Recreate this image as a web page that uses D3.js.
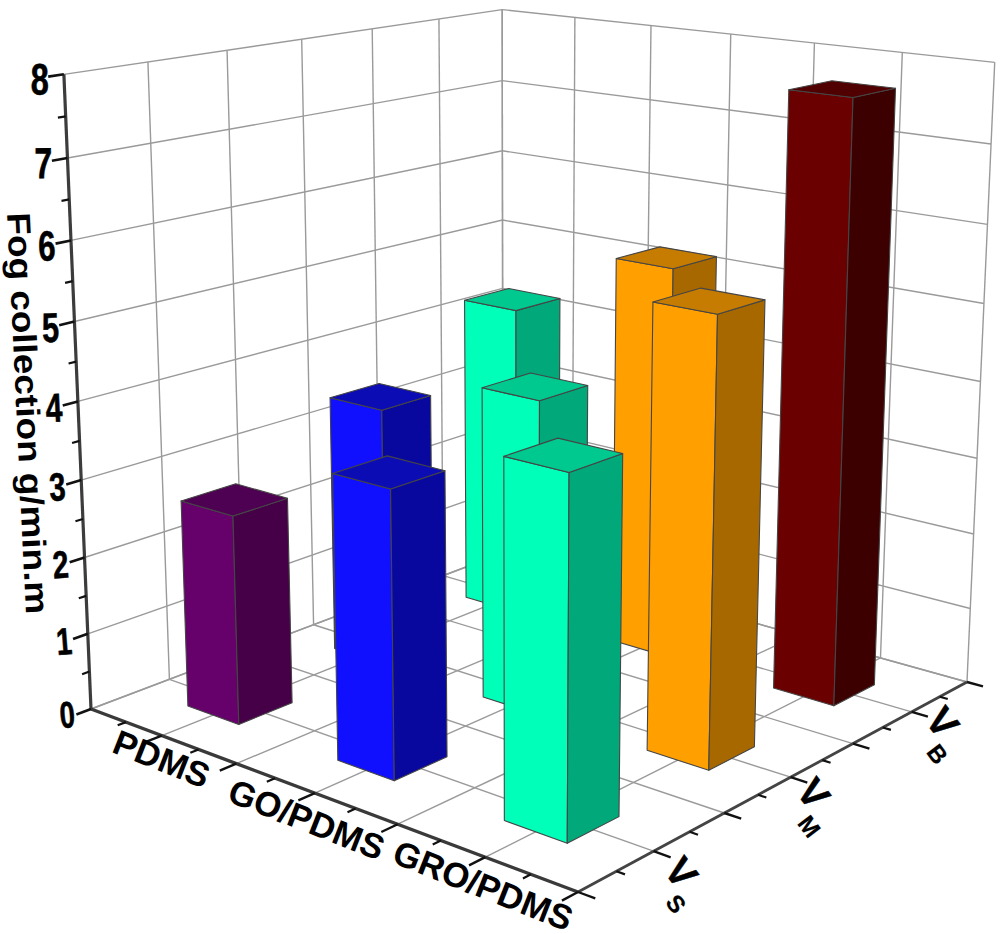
<!DOCTYPE html>
<html><head><meta charset="utf-8">
<style>html,body{margin:0;background:#fff}svg{display:block}text{font-family:"Liberation Sans",Arial,sans-serif;font-weight:bold;fill:#000}</style>
<script src="https://cdn.jsdelivr.net/npm/d3@7/dist/d3.min.js"></script></head><body>
<script>
const categories = ["PDMS","GO/PDMS","GRO/PDMS"];
const seriesNames = ["S","M","B"];
const valuesVS = [2.7,3.58,4.3];
const valuesVM = [3.46,4.06,5.55];
const valuesVB = [4.28,5.24,7.7];
const valueTicks = [0,1,2,3,4,5,6,7,8];
const yTitle = "Fog collection g/min.m";
const palette = [
 {front:"#66006a",side:"#460048",top:"#4e0052"},
 {front:"#1010ff",side:"#08089e",top:"#0c0cb4"},
 {front:"#00ffb8",side:"#00a87a",top:"#00c98f"},
 {front:"#ff9f00",side:"#a86800",top:"#c67c00"},
 {front:"#6b0000",side:"#3c0000",top:"#500000"}];

const W=1000,H=934;
const svg=d3.select("body").append("svg").attr("width",W).attr("height",H);

// anchors of the projected box
const A=[91,709],B=[578,892],C=[967,682],D=[503,553];
const Atop=[65,76],Dtop=[501,5],Ctop=[995,66];
const dx1=B[0]-C[0],dx2=D[0]-C[0],sx=A[0]-B[0]+C[0]-D[0];
const dy1=B[1]-C[1],dy2=D[1]-C[1],sy=A[1]-B[1]+C[1]-D[1];
const den=dx1*dy2-dx2*dy1;
const g=(sx*dy2-dx2*sy)/den,h=(dx1*sy-sx*dy1)/den;
const m={a:B[0]-A[0]+g*B[0],b:D[0]-A[0]+h*D[0],c:A[0],d:B[1]-A[1]+g*B[1],e:D[1]-A[1]+h*D[1],f:A[1]};
const floor=(u,v)=>[m.a*u+m.b*v+m.c,m.d*u+m.e*v+m.f,g*u+h*v+1];
// vertical column by least squares
function solveVert(){
  const rows=[],rhs=[];
  [[0,0,Atop],[0,1,Dtop],[1,1,Ctop]].forEach(([u,v,p])=>{
    const [X,Y,Z]=floor(u,v);
    rows.push([1,0,-p[0]]);rhs.push(p[0]*Z-X);
    rows.push([0,1,-p[1]]);rhs.push(p[1]*Z-Y);
  });
  const n=[[0,0,0,0],[0,0,0,0],[0,0,0,0]];
  rows.forEach((r,k)=>{for(let i=0;i<3;i++){for(let j=0;j<3;j++)n[i][j]+=r[i]*r[j];n[i][3]+=r[i]*rhs[k];}});
  for(let i=0;i<3;i++){for(let k=i+1;k<3;k++){const f=n[k][i]/n[i][i];for(let j=i;j<4;j++)n[k][j]-=f*n[i][j];}}
  const s=[0,0,0];
  for(let i=2;i>=0;i--){let t=n[i][3];for(let j=i+1;j<3;j++)t-=n[i][j]*s[j];s[i]=t/n[i][i];}
  return s;
}
const vert=solveVert();
const proj=(u,v,w)=>{const [X,Y,Z]=floor(u,v);const q=Z+vert[2]*w;return [(X+vert[0]*w)/q,(Y+vert[1]*w)/q];};

const uScale=d3.scalePoint().domain(categories).range([1/6,5/6]);
const vScale=d3.scalePoint().domain(seriesNames).range([1/6,5/6]);
const wScale=d3.scaleLinear().domain([0,8]).range([0,1]);
const gridPos=d3.range(0,7).map(i=>i/6);
const minorPos=d3.range(0,6).map(i=>(i+.5)/6);
const line=d3.line();

// grid
const grid=[];
gridPos.forEach(t=>{
  grid.push([proj(t,0,0),proj(t,1,0)]);
  grid.push([proj(0,t,0),proj(1,t,0)]);
  grid.push([proj(t,1,0),proj(t,1,1)]);
  grid.push([proj(0,t,0),proj(0,t,1)]);
});
valueTicks.forEach(vv=>{
  const w=wScale(vv);
  grid.push([proj(0,0,w),proj(0,1,w)]);
  grid.push([proj(0,1,w),proj(1,1,w)]);
});
svg.append("g").selectAll("path").data(grid).join("path").attr("d",line).attr("fill","none").attr("stroke","#9a9a9a").attr("stroke-width",1.4);

// bars
const hw=0.0585;
const seriesValues=[valuesVS,valuesVM,valuesVB];
const bars=[];
seriesNames.forEach((s,si)=>categories.forEach((c,ci)=>{
  bars.push({c,s,value:seriesValues[si][ci],pal:palette[ci+si]});
}));
bars.sort((p,q)=>(uScale(p.c)-vScale(p.s))-(uScale(q.c)-vScale(q.s)));
const bg=svg.append("g").selectAll("g").data(bars).join("g");
bg.each(function(d){
  const u=uScale(d.c),v=vScale(d.s),w=wScale(d.value);
  const faces=[
   {pts:[[u-hw,v-hw,0],[u+hw,v-hw,0],[u+hw,v-hw,w],[u-hw,v-hw,w]],fill:d.pal.front},
   {pts:[[u+hw,v-hw,0],[u+hw,v+hw,0],[u+hw,v+hw,w],[u+hw,v-hw,w]],fill:d.pal.side},
   {pts:[[u-hw,v-hw,w],[u+hw,v-hw,w],[u+hw,v+hw,w],[u-hw,v+hw,w]],fill:d.pal.top}];
  d3.select(this).selectAll("path").data(faces).join("path")
    .attr("d",f=>line(f.pts.map(p=>proj(...p)))+"Z")
    .attr("fill",f=>f.fill).attr("stroke","#454545").attr("stroke-width",1.1).attr("stroke-linejoin","round");
});

// axes
const ax=svg.append("g");
function seg(p,q,sw,col){ax.append("path").attr("d",line([p,q])).attr("stroke",col||"#333").attr("stroke-width",sw).attr("fill","none");}
seg(proj(0,0,0),proj(0,0,1),3.2,"#3c3c3c");
seg(proj(0,0,0),proj(1,0,0),3.4,"#3a3a3a");
seg(proj(1,0,0),proj(1,1,0),2.8,"#444");
gridPos.slice(1).forEach(t=>{seg(proj(t,0,0),proj(t,-0.034,0),2.4,"#111");seg(proj(1,t-1/6,0),proj(1.03,t-1/6,0),2.4,"#111");});
seg(proj(1,1,0),proj(1.03,1,0),2.4,"#111");
minorPos.forEach(t=>{seg(proj(t,0,0),proj(t,-0.017,0),2.2,"#111");seg(proj(1,t,0),proj(1.015,t,0),2.2,"#111");});
valueTicks.forEach(vv=>seg(proj(0,0,wScale(vv)),proj(0,-0.03,wScale(vv)),2.6,"#111"));
valueTicks.slice(0,-1).forEach(vv=>seg(proj(0,0,wScale(vv+.5)),proj(0,-0.015,wScale(vv+.5)),2.2,"#111"));

// value labels
const sizeScale=d3.scaleLinear().domain([0,8]).range([37,44]);
valueTicks.forEach(vv=>{
  const p=proj(0,0,wScale(vv));
  svg.append("text").text(vv)
    .attr("transform",`translate(${p[0]-15},${p[1]+ (vv===0?18:20)}) rotate(${-5+vv*.6}) scale(.74,1)`)
    .attr("text-anchor","end").attr("font-size",sizeScale(vv))
    .attr("stroke","#000").attr("stroke-width",.6);
});
// category labels
const catOffset=[[0,23],[-8,26],[-2,28]];
categories.forEach((c,i)=>{
  const p=proj(uScale(c),0,0);
  svg.append("text").text(c).attr("text-anchor","middle")
    .attr("transform",`translate(${p[0]+catOffset[i][0]},${p[1]+catOffset[i][1]}) rotate(21.5)`)
    .attr("dy","0.36em").attr("font-size",34.8);
});
// series labels
const serOffset=[[9,19],[4,14],[12,8]];
seriesNames.forEach((s,i)=>{
  const p=proj(1,vScale(s),0);
  const t=svg.append("text").attr("transform",`translate(${p[0]+serOffset[i][0]},${p[1]+serOffset[i][1]}) rotate(53)`)
    .attr("font-size",39).attr("stroke","#000").attr("stroke-width",.5);
  t.append("tspan").text("V");
  t.append("tspan").text(s).attr("font-size",24).attr("dy",18).attr("dx",1).attr("stroke-width",.2);
});
// title
svg.append("text").text(yTitle)
  .attr("transform","translate(7,213) rotate(87.3)")
  .attr("font-size",33).attr("textLength",402).attr("lengthAdjust","spacingAndGlyphs");
</script></body></html>
